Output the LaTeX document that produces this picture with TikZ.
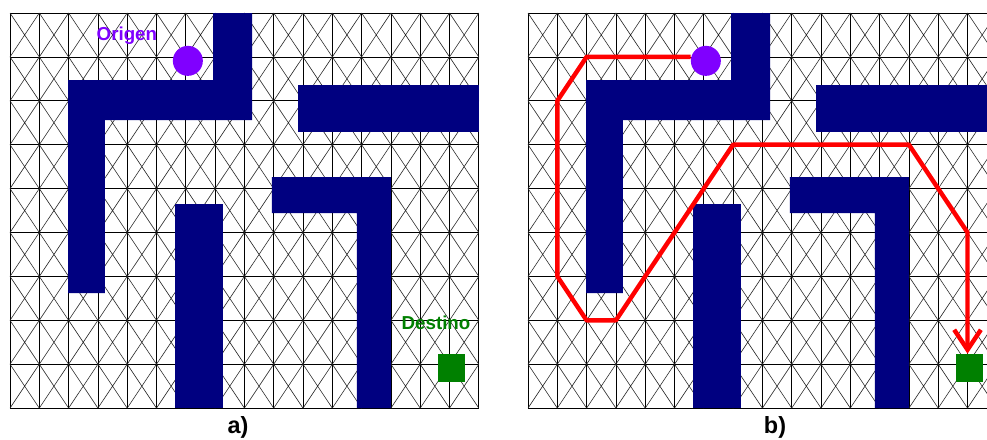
\documentclass[tikz,border=0pt]{standalone}
\usepackage{fontspec}
\setmainfont{Liberation Sans}
\usetikzlibrary{arrows.meta}

\definecolor{wallblue}{RGB}{0,0,128}
\definecolor{startviolet}{RGB}{128,0,255}
\definecolor{goalgreen}{RGB}{0,128,0}
\definecolor{routered}{RGB}{255,0,0}

% triangulated grid, 16 x 9 cells
\newcommand{\mazegrid}{%
  \foreach \i in {0,...,16} \draw[gridline] (\i,0) -- (\i,9);
  \foreach \j in {0,...,9} \draw[gridline] (0,\j) -- (16,\j);
  \foreach \i in {0,...,15} \foreach \j in {0,...,8}
    \draw[diagline] (\i,\j) -- ++(1,1) (\i+1,\j) -- ++(-1,1);
}
% obstacles
\newcommand{\mazewalls}{%
  \fill[wall] (1.98,1.53) -- (6.93,1.53) -- (6.93,0) -- (8.26,0) -- (8.26,2.44)
    -- (3.24,2.44) -- (3.24,6.38) -- (1.98,6.38) -- cycle;
  \fill[wall] (9.83,1.64) rectangle (16,2.71);
  \fill[wall] (5.63,4.35) rectangle (7.27,9);
  \fill[wall] (8.94,3.74) -- (13,3.74) -- (13,9) -- (11.84,9) -- (11.84,4.56)
    -- (8.94,4.56) -- cycle;
}

\begin{document}
\begin{tikzpicture}[
  x=0.3mm, y=-0.3mm,
  gridline/.style={draw=black, line width=0.6pt},
  diagline/.style={draw=black!85, line width=0.5pt},
  wall/.style={fill=wallblue},
  start/.style={circle, fill=startviolet, minimum size=9mm, inner sep=0pt},
  goal/.style={rectangle, fill=goalgreen, minimum width=8.2mm,
               minimum height=8.5mm, inner sep=0pt},
  tag/.style={font=\bfseries\fontsize{16}{16}\selectfont, anchor=base},
  caption/.style={font=\bfseries\fontsize{20}{20}\selectfont, anchor=base},
  route/.style={draw=routered, line width=3.8pt, line join=round,
                -{Straight Barb[length=6mm,width=8mm]}},
]
  \useasboundingbox (0,0) rectangle (987,439);
  \fill[white] (0,0) rectangle (987,439);

  % a) map with start and goal
  \begin{scope}[shift={(10,13)}, x=8.79mm, y=-13.17mm]
    \mazegrid
    \mazewalls
    \node[start] (origA) at (6.07,1.09) {};
    \node[goal] (goalA) at (15.07,8.09) {};
    \node[tag, text=startviolet] (lblOrigA) at (3.99,0.62) {Origen};
    \node[tag, text=goalgreen] (lblGoalA) at (14.54,7.22) {Destino};
  \end{scope}

  % b) planned route
  \begin{scope}[shift={(528,13)}, x=8.79mm, y=-13.17mm]
    \clip (-0.1,-0.1) rectangle (15.67,9.1);
    \mazegrid
    \mazewalls
    \node[start] (origB) at (6.07,1.09) {};
    \node[goal] (goalB) at (15.07,8.09) {};
    \draw[route] (origB.west |- 2,1) -- (2,1) -- (1,2) -- (1,6) -- (2,7)
      -- (3,7) -- (7,3) -- (13,3) -- (15,5) -- (15,5 |- goalB.north);
  \end{scope}

  \node[caption] (capA) at (238,433) {a)};
  \node[caption] (capB) at (775,433) {b)};
\end{tikzpicture}
\end{document}
